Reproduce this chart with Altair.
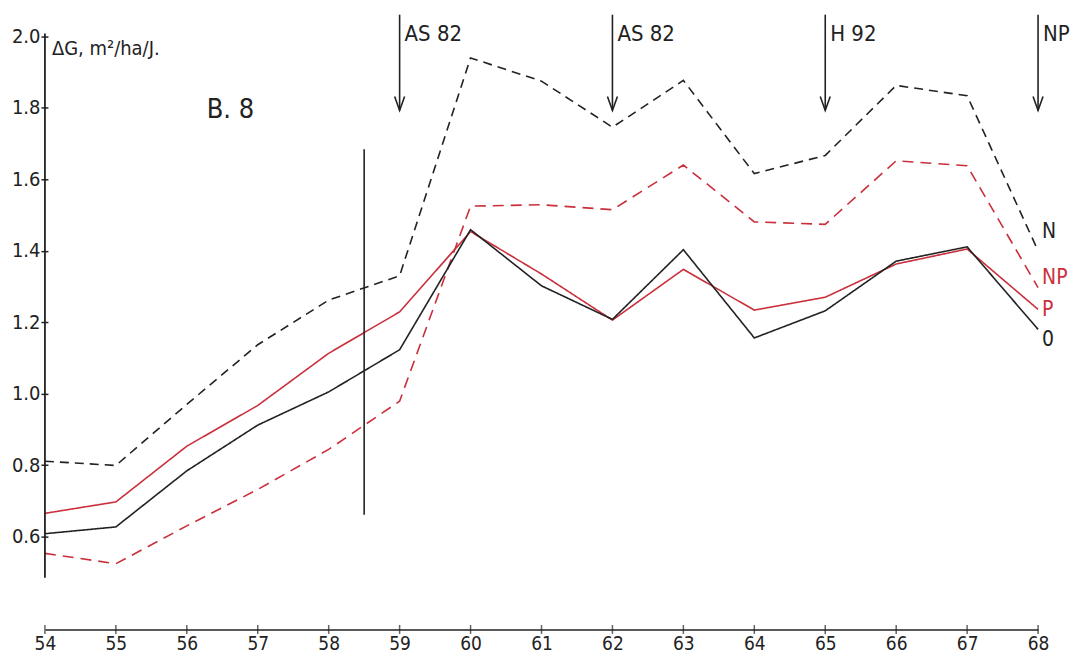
import altair as alt
import pandas as pd

# ---- data ----
years = list(range(54, 69))
n_vals = [0.811, 0.799, 0.970, 1.137, 1.262, 1.330, 1.940, 1.875, 1.746, 1.877, 1.616, 1.667, 1.863, 1.834, 1.400]
np_vals = [0.553, 0.524, 0.630, 0.732, 0.844, 0.979, 1.525, 1.529, 1.515, 1.640, 1.481, 1.474, 1.652, 1.638, 1.297]
p_vals = [0.665, 0.697, 0.853, 0.967, 1.113, 1.229, 1.454, 1.335, 1.206, 1.348, 1.234, 1.270, 1.363, 1.405, 1.236]
o_vals = [0.608, 0.627, 0.784, 0.912, 1.005, 1.123, 1.459, 1.302, 1.208, 1.403, 1.156, 1.232, 1.371, 1.411, 1.180]

series_names = ["N", "NP", "P", "0"]
end_label_y = [1.453, 1.324, 1.234, 1.150]

arrow_years = [59, 62, 65, 68]
arrow_labels = ["AS 82", "AS 82", "H 92", "NP"]
arrow_top = 2.061
arrow_tip = 1.793

y_ticks = [0.6, 0.8, 1.0, 1.2, 1.4, 1.6, 1.8, 2.0]
x_ticks = years

divider_x = 58.5
divider_y = [0.661, 1.684]

y_axis_span = [0.485, 2.008]
y_domain = [0.340, 2.078]
x_domain = [54, 68]

FONT = "Liberation Sans Narrow, DejaVu Sans Condensed, Roboto Condensed, Liberation Sans, sans-serif"
BLACK = "#222222"
RED = "#c9303c"

# ---- tables ----
rows = []
for name, vals in zip(series_names, [n_vals, np_vals, p_vals, o_vals]):
    for yr, v in zip(years, vals):
        rows.append({"year": yr, "value": v, "series": name})
df = pd.DataFrame(rows)

ends = pd.DataFrame({"series": series_names, "year": [68] * 4, "value": end_label_y})
arrows = pd.DataFrame({"year": arrow_years, "label": arrow_labels,
                       "top": [arrow_top] * 4, "tip": [arrow_tip] * 4})
xt = pd.DataFrame({"year": x_ticks, "base": [y_domain[0]] * len(x_ticks)})

xs = alt.Scale(domain=x_domain, nice=False, zero=False)
ys = alt.Scale(domain=y_domain, nice=False, zero=False)
color_scale = alt.Scale(domain=series_names, range=[BLACK, RED, RED, BLACK])
dash_scale = alt.Scale(domain=series_names, range=[[9, 6], [11, 7], [1, 0], [1, 0]])

lines = alt.Chart(df).mark_line(strokeWidth=1.6).encode(
    x=alt.X("year:Q", scale=xs,
            axis=alt.Axis(values=x_ticks, format="d", title=None, ticks=False, grid=False,
                          domainColor=BLACK, domainWidth=1.6, labelFont=FONT, labelFlush=False,
                          labelFontSize=19, labelColor=BLACK, labelPadding=5)),
    y=alt.Y("value:Q", scale=ys,
            axis=alt.Axis(values=y_ticks, format=".1f", title=None, domain=False, grid=False,
                          tickSize=7, tickWidth=1.5, tickColor=BLACK, offset=-3,
                          labelFont=FONT, labelFontSize=20, labelColor=BLACK, labelPadding=1)),
    color=alt.Color("series:N", scale=color_scale, legend=None),
    strokeDash=alt.StrokeDash("series:N", scale=dash_scale, legend=None),
    detail="series:N",
)

end_text = alt.Chart(ends).mark_text(align="left", baseline="middle", dx=4,
                                     font=FONT, fontSize=21).encode(
    x=alt.X("year:Q", scale=xs), y=alt.Y("value:Q", scale=ys),
    text="series:N",
    color=alt.Color("series:N", scale=color_scale, legend=None),
)

y_line = alt.Chart(pd.DataFrame({"x": [x_domain[0]], "y1": [y_axis_span[0]], "y2": [y_axis_span[1]]})).mark_rule(
    color=BLACK, strokeWidth=1.8).encode(
    x=alt.X("x:Q", scale=xs), y=alt.Y("y1:Q", scale=ys), y2="y2:Q")

x_ticks_marks = alt.Chart(xt).mark_tick(orient="vertical", size=9, thickness=1.5, color=BLACK).encode(
    x=alt.X("year:Q", scale=xs), y=alt.Y("base:Q", scale=ys))

divider = alt.Chart(pd.DataFrame({"x": [divider_x], "y1": [divider_y[0]], "y2": [divider_y[1]]})).mark_rule(
    color=BLACK, strokeWidth=1.6).encode(
    x=alt.X("x:Q", scale=xs), y=alt.Y("y1:Q", scale=ys), y2="y2:Q")

arrow_shaft = alt.Chart(arrows).mark_rule(color=BLACK, strokeWidth=1.6).encode(
    x=alt.X("year:Q", scale=xs), y=alt.Y("top:Q", scale=ys), y2="tip:Q")

arrow_head = alt.Chart(arrows).mark_point(
    shape="M-0.5,-1.4L0,0L0.5,-1.4", size=400, filled=False, color=BLACK, strokeWidth=1.6, opacity=1).encode(
    x=alt.X("year:Q", scale=xs), y=alt.Y("tip:Q", scale=ys))

arrow_text = alt.Chart(arrows).mark_text(align="left", baseline="alphabetic", dx=5,
                                         font=FONT, fontSize=22, color=BLACK).encode(
    x=alt.X("year:Q", scale=xs), y=alt.Y("lab_y:Q", scale=ys), text="label:N"
).transform_calculate(lab_y="1.986")

ann = pd.DataFrame({"x": [56.28, 54.0], "y": [1.771, 1.947], "t": ["B. 8", "ΔG, m²/ha/J."]})
b8 = alt.Chart(ann.iloc[[0]]).mark_text(align="left", baseline="alphabetic", font=FONT,
                                        fontSize=27, color=BLACK).encode(
    x=alt.X("x:Q", scale=xs), y=alt.Y("y:Q", scale=ys), text="t:N")
unit = alt.Chart(ann.iloc[[1]]).mark_text(align="left", baseline="alphabetic", dx=7, font=FONT,
                                          fontSize=20, color=BLACK).encode(
    x=alt.X("x:Q", scale=xs), y=alt.Y("y:Q", scale=ys), text="t:N")

chart = alt.layer(
    lines, y_line, x_ticks_marks, divider, arrow_shaft, arrow_head, arrow_text, b8, unit, end_text
).properties(
    width=995, height=622,
    padding={"left": 37, "top": 0, "right": 33, "bottom": 26},
    autosize=alt.AutoSizeParams(type="none"),
    background="white",
).configure_view(stroke=None)

chart.save("out.html", embed_options={"renderer": "svg", "actions": False})
